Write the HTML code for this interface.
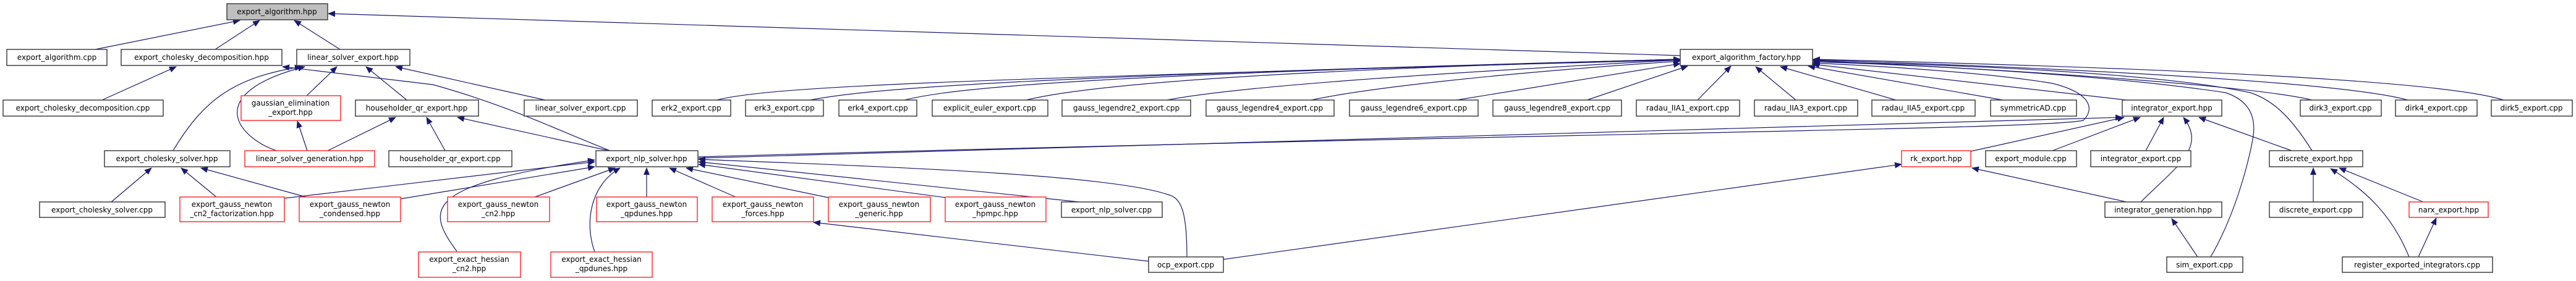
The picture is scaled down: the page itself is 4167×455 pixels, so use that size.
<!DOCTYPE html>
<html><head><meta charset="utf-8"><style>
html,body{margin:0;padding:0;background:#fff;}
svg{display:block;}
text{font-family:"DejaVu Sans","Liberation Sans",sans-serif;font-size:12px;fill:#000;text-anchor:middle;}
.n{fill:#fff;stroke:#404040;stroke-width:1.5;}
.r{fill:#fff;stroke:#ff3030;stroke-width:1.5;}
.g{fill:#bfbfbf;stroke:#404040;stroke-width:1.5;}
path{fill:none;stroke:#191970;stroke-width:1.2;marker-end:url(#a);}
</style></head><body>
<svg width="4167" height="455" viewBox="0 0 4167 455" xmlns="http://www.w3.org/2000/svg">
<defs><marker id="a" markerUnits="userSpaceOnUse" markerWidth="12" markerHeight="10" refX="11" refY="5" orient="auto"><polygon points="0,0 12,5 0,10" fill="#191970"/></marker></defs>

<!-- edges -->
<path d="M154 80 L388 33"/>
<path d="M348 80 L420 33"/>
<path d="M550 80 L476 33"/>
<path d="M2718 90 L531 22"/>
<path d="M165 162 L285 108"/>
<path d="M987 244 C900 210, 820 170, 700 137 L457 108"/>
<path d="M280 244 C330 160, 380 125, 488 108"/>
<path d="M447 244 C380 220, 330 150, 493 108"/>
<path d="M496 155 L545 108"/>
<path d="M658 162 L592 108"/>
<path d="M882 162 L640 108"/>
<path d="M530 244 L640 190"/>
<path d="M720 244 L690 190"/>
<path d="M985 244 L740 190"/>
<path d="M497 244 L481 196"/>
<path d="M180 327 L245 272"/>
<path d="M350 319 L293 272"/>
<path d="M495 319 L325 272"/>
<path d="M460 321 L962 262"/>
<path d="M648 322 L962 270"/>
<path d="M739 407 C690 340, 680 300, 962 259"/>
<path d="M865 319 L995 272"/>
<path d="M1046 319 L1046 272"/>
<path d="M962 408 C945 360, 955 300, 1003 272"/>
<path d="M1190 319 L1083 272"/>
<path d="M1340 320 L1110 272"/>
<path d="M1530 320 L1130 266"/>
<path d="M1746 327 L1130 262"/>
<path d="M1920 416 C1920 340, 1910 320, 1889 315 C1800 285, 1500 272, 1130 258"/>
<path d="M1130 256 L3433 190"/>
<path d="M1130 254 C2500 215, 3300 210, 3370 195 C3390 175, 3380 150, 3320 135 C3200 115, 3000 105, 2932 102"/>
<path d="M1159 162 C1250 140, 1500 130, 2718 97"/>
<path d="M1310 162 C1400 145, 1600 125, 2718 96"/>
<path d="M1463 162 C1550 140, 1800 120, 2718 96"/>
<path d="M1660 162 C1750 140, 2000 115, 2718 96"/>
<path d="M1888 162 C2000 140, 2300 120, 2718 97"/>
<path d="M2121 162 C2200 145, 2400 120, 2718 99"/>
<path d="M2356 162 L2718 103"/>
<path d="M2567 162 L2730 107"/>
<path d="M2746 162 L2800 107"/>
<path d="M2905 162 L2840 108"/>
<path d="M3067 162 L2880 108"/>
<path d="M3240 162 L2925 107"/>
<path d="M3440 162 L2932 104"/>
<path d="M3740 162 C3650 140, 3300 115, 2933 98"/>
<path d="M3895 162 C3800 135, 3400 112, 2933 97"/>
<path d="M4050 162 C3950 130, 3500 110, 2933 96"/>
<path d="M3740 244 C3700 180, 3670 160, 3640 150 C3500 120, 3200 105, 2933 100"/>
<path d="M3576 416 C3620 340, 3640 250, 3645 220 C3650 180, 3630 160, 3600 150 C3400 120, 3100 105, 2933 100"/>
<path d="M3188 245 L3436 190"/>
<path d="M3320 244 L3462 190"/>
<path d="M3471 244 L3500 190"/>
<path d="M3463 327 C3520 270, 3570 240, 3532 190"/>
<path d="M3707 244 L3557 190"/>
<path d="M1979 420 L3076 266"/>
<path d="M3440 327 L3190 272"/>
<path d="M1858 423 L1316 360"/>
<path d="M3555 416 L3513 354"/>
<path d="M3742 327 L3742 272"/>
<path d="M3897 416 C3870 350, 3830 310, 3770 273"/>
<path d="M3920 327 L3784 272"/>
<path d="M3912 416 L3941 353"/>

<!-- nodes -->
<rect class="g" x="367" y="6" width="163" height="26"/><text x="448" y="23">export_algorithm.hpp</text>

<rect class="n" x="11" y="80" width="162" height="26"/><text x="92" y="97">export_algorithm.cpp</text>
<rect class="n" x="196" y="80" width="260" height="26"/><text x="326" y="97">export_cholesky_decomposition.hpp</text>
<rect class="n" x="480" y="80" width="183" height="26"/><text x="571" y="97">linear_solver_export.hpp</text>
<rect class="n" x="2718" y="80" width="214" height="26"/><text x="2825" y="97">export_algorithm_factory.hpp</text>

<rect class="n" x="5" y="162" width="259" height="26"/><text x="134" y="179">export_cholesky_decomposition.cpp</text>
<rect class="r" x="390" y="155" width="161" height="40"/><text x="470" y="171">gaussian_elimination</text><text x="470" y="186">_export.hpp</text>
<rect class="n" x="575" y="162" width="199" height="26"/><text x="674" y="179">householder_qr_export.hpp</text>
<rect class="n" x="848" y="162" width="183" height="26"/><text x="939" y="179">linear_solver_export.cpp</text>
<rect class="n" x="1055" y="162" width="127" height="26"/><text x="1118" y="179">erk2_export.cpp</text>
<rect class="n" x="1206" y="162" width="126" height="26"/><text x="1269" y="179">erk3_export.cpp</text>
<rect class="n" x="1357" y="162" width="126" height="26"/><text x="1420" y="179">erk4_export.cpp</text>
<rect class="n" x="1508" y="162" width="187" height="26"/><text x="1601" y="179">explicit_euler_export.cpp</text>
<rect class="n" x="1718" y="162" width="208" height="26"/><text x="1822" y="179">gauss_legendre2_export.cpp</text>
<rect class="n" x="1951" y="162" width="207" height="26"/><text x="2054" y="179">gauss_legendre4_export.cpp</text>
<rect class="n" x="2183" y="162" width="208" height="26"/><text x="2287" y="179">gauss_legendre6_export.cpp</text>
<rect class="n" x="2415" y="162" width="208" height="26"/><text x="2519" y="179">gauss_legendre8_export.cpp</text>
<rect class="n" x="2647" y="162" width="167" height="26"/><text x="2730" y="179">radau_IIA1_export.cpp</text>
<rect class="n" x="2838" y="162" width="167" height="26"/><text x="2921" y="179">radau_IIA3_export.cpp</text>
<rect class="n" x="3028" y="162" width="167" height="26"/><text x="3111" y="179">radau_IIA5_export.cpp</text>
<rect class="n" x="3220" y="162" width="139" height="26"/><text x="3289" y="179">symmetricAD.cpp</text>
<rect class="n" x="3433" y="162" width="161" height="26"/><text x="3513" y="179">integrator_export.hpp</text>
<rect class="n" x="3721" y="162" width="131" height="26"/><text x="3786" y="179">dirk3_export.cpp</text>
<rect class="n" x="3875" y="162" width="132" height="26"/><text x="3941" y="179">dirk4_export.cpp</text>
<rect class="n" x="4030" y="162" width="131" height="26"/><text x="4095" y="179">dirk5_export.cpp</text>

<rect class="n" x="169" y="244" width="203" height="26"/><text x="270" y="261">export_cholesky_solver.hpp</text>
<rect class="r" x="396" y="244" width="210" height="26"/><text x="501" y="261">linear_solver_generation.hpp</text>
<rect class="n" x="629" y="244" width="199" height="26"/><text x="728" y="261">householder_qr_export.cpp</text>
<rect class="n" x="964" y="244" width="165" height="26"/><text x="1046" y="261">export_nlp_solver.hpp</text>
<rect class="r" x="3076" y="244" width="112" height="26"/><text x="3132" y="261">rk_export.hpp</text>
<rect class="n" x="3212" y="244" width="147" height="26"/><text x="3285" y="261">export_module.cpp</text>
<rect class="n" x="3382" y="244" width="162" height="26"/><text x="3463" y="261">integrator_export.cpp</text>
<rect class="n" x="3671" y="244" width="151" height="26"/><text x="3746" y="261">discrete_export.hpp</text>

<rect class="n" x="64" y="327" width="203" height="25"/><text x="165" y="344">export_cholesky_solver.cpp</text>
<rect class="r" x="291" y="319" width="169" height="40"/><text x="375" y="335">export_gauss_newton</text><text x="375" y="350">_cn2_factorization.hpp</text>
<rect class="r" x="484" y="319" width="164" height="40"/><text x="566" y="335">export_gauss_newton</text><text x="566" y="350">_condensed.hpp</text>
<rect class="r" x="724" y="319" width="165" height="40"/><text x="806" y="335">export_gauss_newton</text><text x="806" y="350">_cn2.hpp</text>
<rect class="r" x="965" y="319" width="163" height="40"/><text x="1046" y="335">export_gauss_newton</text><text x="1046" y="350">_qpdunes.hpp</text>
<rect class="r" x="1152" y="319" width="164" height="40"/><text x="1234" y="335">export_gauss_newton</text><text x="1234" y="350">_forces.hpp</text>
<rect class="r" x="1340" y="319" width="165" height="40"/><text x="1422" y="335">export_gauss_newton</text><text x="1422" y="350">_generic.hpp</text>
<rect class="r" x="1529" y="319" width="163" height="40"/><text x="1610" y="335">export_gauss_newton</text><text x="1610" y="350">_hpmpc.hpp</text>
<rect class="n" x="1717" y="327" width="163" height="25"/><text x="1798" y="344">export_nlp_solver.cpp</text>
<rect class="n" x="3405" y="327" width="189" height="25"/><text x="3499" y="344">integrator_generation.hpp</text>
<rect class="n" x="3671" y="327" width="151" height="25"/><text x="3746" y="344">discrete_export.cpp</text>
<rect class="r" x="3897" y="327" width="128" height="25"/><text x="3961" y="344">narx_export.hpp</text>

<rect class="r" x="677" y="408" width="165" height="41"/><text x="759" y="424">export_exact_hessian</text><text x="759" y="439">_cn2.hpp</text>
<rect class="r" x="891" y="408" width="164" height="41"/><text x="973" y="424">export_exact_hessian</text><text x="973" y="439">_qpdunes.hpp</text>
<rect class="n" x="1858" y="416" width="121" height="25"/><text x="1918" y="433">ocp_export.cpp</text>
<rect class="n" x="3505" y="416" width="123" height="25"/><text x="3566" y="433">sim_export.cpp</text>
<rect class="n" x="3789" y="416" width="243" height="25"/><text x="3910" y="433">register_exported_integrators.cpp</text>
</svg>
</body></html>
